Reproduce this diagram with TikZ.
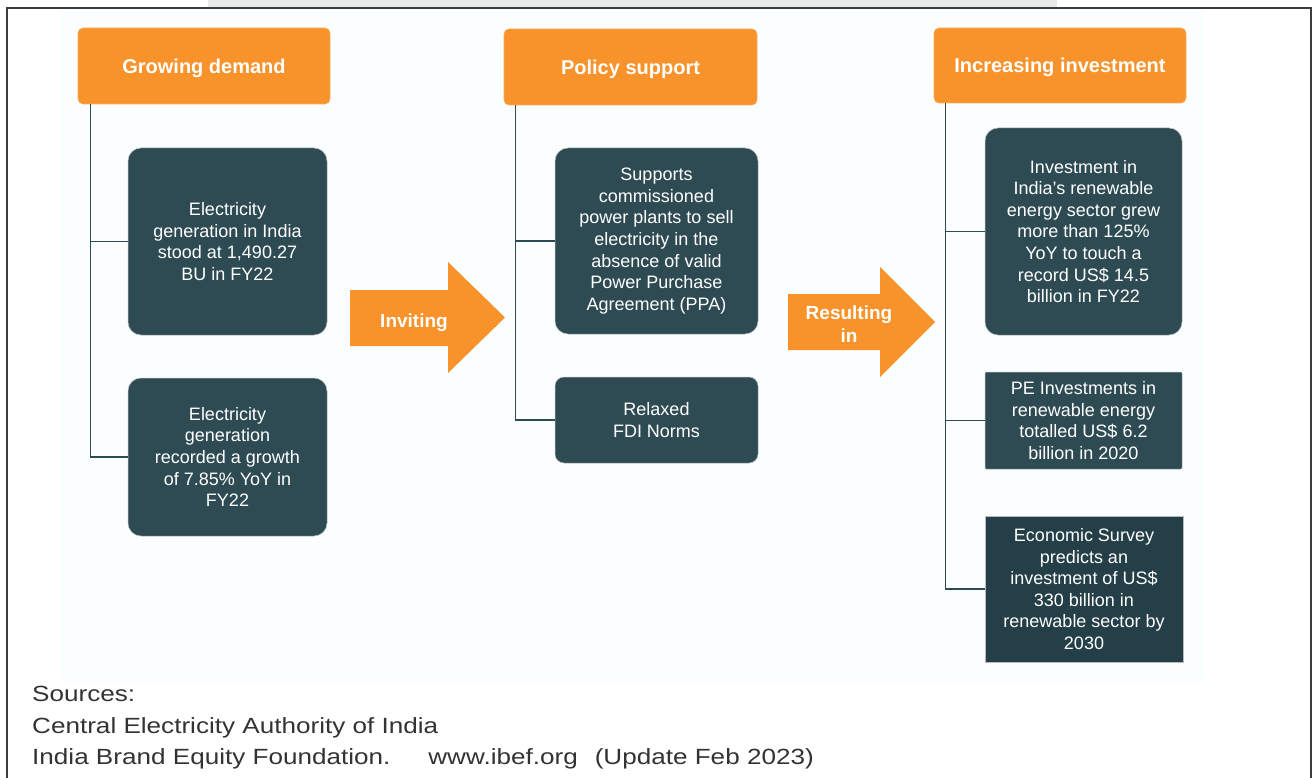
\documentclass[tikz,border=0pt]{standalone}
\usepackage{fontspec}
\usetikzlibrary{calc}
\setmainfont{Liberation Sans}
\newfontfamily\srcfont[FakeStretch=1.186]{Liberation Sans}

\definecolor{orangehead}{HTML}{F8922B}
\definecolor{slatebox}{HTML}{2E4B54}
\definecolor{slatedark}{HTML}{243F47}
\definecolor{panelbg}{HTML}{FAFEFE}
\definecolor{framegray}{HTML}{3C3C3C}
\definecolor{topbar}{HTML}{E9E9E9}
\definecolor{srctext}{HTML}{333333}

\tikzset{
  headbox/.style={fill=orangehead, draw=orangehead!75!white, line width=0.6pt,
    rounded corners=5pt, text=white, inner sep=0pt, text depth=0pt,
    font=\fontsize{20}{24}\selectfont\bfseries},
  card/.style={fill=slatebox, draw=gray!55, line width=0.5pt,
    rounded corners=13pt, text=white, align=center, inner sep=0pt,
    font=\fontsize{18}{21.6}\selectfont},
  flatcard/.style={card, rounded corners=1pt},
  link/.style={draw=slatebox, line width=1.3pt},
  bigarrow/.style={fill=orangehead},
  arrowlabel/.style={text=white, align=center, inner sep=0pt,
    font=\fontsize{19}{23}\selectfont\bfseries},
  srcline/.style={anchor=base west, inner sep=0pt, text=srctext,
    font=\fontsize{22}{26}\srcfont}
}

\begin{document}
\begin{tikzpicture}[x=1pt,y=-1pt]
  \useasboundingbox (0,0) rectangle (1314,778);

  % page furniture
  \fill[topbar] (208,0) rectangle (1057,7);
  \fill[panelbg] (61,9) rectangle (1203,682);
  \draw[framegray, line width=2pt] (7,778) -- (7,8) -- (1311,8) -- (1311,778);

  % column headers
  \node[headbox, minimum width=252pt, minimum height=76pt] (H1) at (204,66) {Growing demand};
  \node[headbox, minimum width=253pt, minimum height=76pt] (H2) at (630.5,67) {Policy support};
  \node[headbox, minimum width=252pt, minimum height=75pt] (H3) at (1060,65.5) {Increasing investment};

  % growing demand
  \node[card, minimum width=199pt, minimum height=187pt] (B1) at (227.5,241.5)
    {Electricity\\generation in India\\stood at 1,490.27\\BU in FY22};
  \node[card, minimum width=199pt, minimum height=158pt] (B2) at (227.5,457)
    {Electricity\\generation\\recorded a growth\\of 7.85\% YoY in\\FY22};

  % policy support
  \node[card, minimum width=203pt, minimum height=186pt] (B3) at (656.5,241)
    {Supports\\commissioned\\power plants to sell\\electricity in the\\absence of valid\\Power Purchase\\Agreement (PPA)};
  \node[card, rounded corners=9pt, minimum width=203pt, minimum height=86pt] (B4) at (656.5,420)
    {Relaxed\\FDI Norms};

  % increasing investment
  \node[card, minimum width=197pt, minimum height=207pt] (B5) at (1083.5,231.5)
    {Investment in\\India’s renewable\\energy sector grew\\more than 125\%\\YoY to touch a\\record US\$ 14.5\\billion in FY22};
  \node[flatcard, minimum width=197pt, minimum height=97pt] (B6) at (1083.5,420.5)
    {PE Investments in\\renewable energy\\totalled US\$ 6.2\\billion in 2020};
  \node[flatcard, fill=slatedark, rounded corners=0pt, minimum width=198pt, minimum height=146pt] (B7) at (1084,589)
    {Economic Survey\\predicts an\\investment of US\$\\330 billion in\\renewable sector by\\2030};

  % tree connectors
  \coordinate (T1) at ($(H1.south west)+(13,0)$);
  \coordinate (T2) at ($(H2.south west)+(12,0)$);
  \coordinate (T3) at ($(H3.south west)+(12,0)$);
  \draw[link] (T1) |- (B1.west);
  \draw[link] (T1) |- (B2.west);
  \draw[link] (T2) |- (B3.west);
  \draw[link] (T2) |- (B4.west);
  \draw[link] (T3) |- (B5.west);
  \draw[link] (T3) |- (B6.west);
  \draw[link] (T3) |- (B7.west);

  % block arrows between columns
  \fill[bigarrow] (350,290) -- (448,290) -- (448,262) -- (505,317.5)
    -- (448,373) -- (448,346) -- (350,346) -- cycle;
  \node[arrowlabel, text depth=0pt] (A1) at (414,320.5) {Inviting};
  \fill[bigarrow] (788,294) -- (880,294) -- (880,267) -- (935,322)
    -- (880,377) -- (880,350) -- (788,350) -- cycle;
  \node[arrowlabel] (A2) at (849,324) {Resulting\\in};

  % sources
  \node[srcline] (S1) at (32,701) {Sources:};
  \node[srcline] (S2) at (32,733) {Central Electricity Authority of India};
  \node[srcline] (S3) at (32,764) {India Brand Equity Foundation.\hspace{38pt}www.ibef.org\hspace{17pt}(Update Feb 2023)};
\end{tikzpicture}
\end{document}
